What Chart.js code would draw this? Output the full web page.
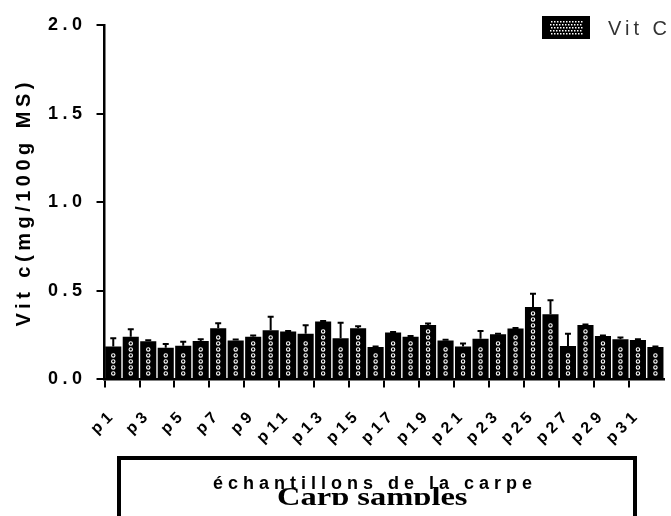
<!DOCTYPE html>
<html lang="fr">
<head>
<meta charset="UTF-8">
<title>Vit C - échantillons de la carpe</title>
<script src="https://cdn.jsdelivr.net/npm/chart.js"></script>
<style>
  body { margin: 0; background: #fff; overflow: hidden; }
  #wrap { position: relative; width: 671px; height: 516px; overflow: hidden; }
  #legend { position: absolute; left: 542px; top: 16px; }
  #legend span { position: absolute; left: 66px; top: 1px; font: 20px "Liberation Sans", Arial, sans-serif; color: #333; letter-spacing: 4px; white-space: nowrap; }
  #xbox { position: absolute; left: 117px; top: 456px; width: 512px; height: 80px; border: 4px solid #000; }
  #fr { position: absolute; left: 213px; top: 473px; font: bold 18px "Liberation Sans", Arial, sans-serif; letter-spacing: 5px; white-space: nowrap; }
  #en { position: absolute; left: 277px; top: 484px; height: 21px; overflow: hidden; font: bold 25px/25px "Liberation Serif", "Times New Roman", serif; white-space: nowrap; transform: scaleX(1.3); transform-origin: left top; }
</style>
</head>
<body>
<div id="wrap">
  <canvas id="chart" width="687" height="516"></canvas>
  <div id="legend"><canvas id="swatch" width="48" height="23"></canvas><span>Vit C</span></div>
  <div id="xbox"></div>
  <div id="fr">échantillons de la carpe</div>
  <div id="en">Carp samples</div>
</div>
<script>
// data
var samples = [];
for (var i = 1; i <= 32; i++) samples.push('p' + i);
var vitC = [0.185, 0.240, 0.215, 0.179, 0.190, 0.217, 0.289, 0.220, 0.241, 0.277, 0.270, 0.258, 0.326, 0.232, 0.289, 0.183,
            0.264, 0.240, 0.307, 0.220, 0.185, 0.230, 0.255, 0.287, 0.409, 0.368, 0.188, 0.307, 0.245, 0.226, 0.222, 0.183];
var vitCErr = [0.047, 0.043, 0.006, 0.021, 0.023, 0.009, 0.028, 0.005, 0.006, 0.077, 0.003, 0.047, 0.004, 0.088, 0.011, 0.003,
               0.003, 0.005, 0.008, 0.004, 0.017, 0.043, 0.003, 0.003, 0.074, 0.079, 0.070, 0.003, 0.003, 0.010, 0.004, 0.003];
var yTicks = [0, 0.5, 1.0, 1.5, 2.0];

// legend swatch: black box with white dot grid
var sw = document.getElementById('swatch').getContext('2d');
sw.fillStyle = '#000';
sw.fillRect(0, 0, 48, 23);
sw.fillStyle = '#fff';
for (var yy = 5; yy < 19; yy += 3) {
  for (var xx = 8 + (yy % 2); xx < 41; xx += 3) sw.fillRect(xx, yy, 1.5, 1.5);
}

var spacing = {
  id: 'spacing',
  beforeLayout: function (c) { c.ctx.letterSpacing = '4.5px'; },
  beforeDraw: function (c) { c.ctx.letterSpacing = '4.5px'; }
};

// white rings down the middle of each bar + upward error bars
var decor = {
  id: 'decor',
  afterDatasetsDraw: function (chart) {
    var ctx = chart.ctx;
    var meta = chart.getDatasetMeta(0);
    var y = chart.scales.y;
    ctx.save();
    ctx.strokeStyle = '#fff';
    ctx.lineWidth = 1.1;
    meta.data.forEach(function (bar) {
      for (var py = bar.base - 5; py > bar.y + 6; py -= 6) {
        ctx.beginPath();
        ctx.arc(bar.x, py, 1.7, 0, Math.PI * 2);
        ctx.stroke();
      }
    });
    ctx.strokeStyle = '#000';
    ctx.lineWidth = 2;
    meta.data.forEach(function (bar, i) {
      var top = y.getPixelForValue(vitC[i] + vitCErr[i]);
      ctx.beginPath();
      ctx.moveTo(bar.x, bar.y);
      ctx.lineTo(bar.x, top);
      ctx.moveTo(bar.x - 3, top);
      ctx.lineTo(bar.x + 3, top);
      ctx.stroke();
    });
    ctx.restore();
  }
};

var ctx = document.getElementById('chart').getContext('2d');
new Chart(ctx, {
  type: 'bar',
  data: {
    labels: samples,
    datasets: [{
      label: 'Vit C',
      data: vitC,
      backgroundColor: '#000',
      borderWidth: 0,
      barPercentage: 0.92,
      categoryPercentage: 1
    }]
  },
  options: {
    responsive: false,
    animation: false,
    layout: { padding: { left: 12, top: 25, right: 0, bottom: 50 } },
    plugins: { legend: { display: false }, tooltip: { enabled: false } },
    scales: {
      x: {
        grid: {
          drawOnChartArea: false,
          tickLength: 8,
          lineWidth: 2,
          color: function (c) { return c.index % 2 === 0 ? '#000' : 'rgba(0,0,0,0)'; }
        },
        border: { color: '#000', width: 2.5 },
        ticks: {
          autoSkip: false,
          minRotation: 45,
          maxRotation: 45,
          padding: 18,
          color: '#000',
          font: { family: '"Liberation Sans", Arial, sans-serif', size: 16, weight: 'bold' },
          callback: function (v, i) { return i % 2 === 0 ? samples[i] : ''; }
        }
      },
      y: {
        min: 0,
        max: 2,
        afterBuildTicks: function (s) { s.ticks = yTicks.map(function (v) { return { value: v }; }); },
        grid: { drawOnChartArea: false, tickLength: 8, lineWidth: 2, color: '#000' },
        border: { color: '#000', width: 2.5 },
        ticks: {
          padding: 10,
          color: '#000',
          font: { family: '"Liberation Sans", Arial, sans-serif', size: 18, weight: 'bold' },
          callback: function (v) { return Number(v).toFixed(1); }
        },
        title: {
          display: true,
          text: 'Vit c(mg/100g MS)',
          color: '#000',
          padding: { top: 0, bottom: 2 },
          font: { family: '"Liberation Sans", Arial, sans-serif', size: 20, weight: 'bold' }
        }
      }
    }
  },
  plugins: [spacing, decor]
});
</script>
</body>
</html>
